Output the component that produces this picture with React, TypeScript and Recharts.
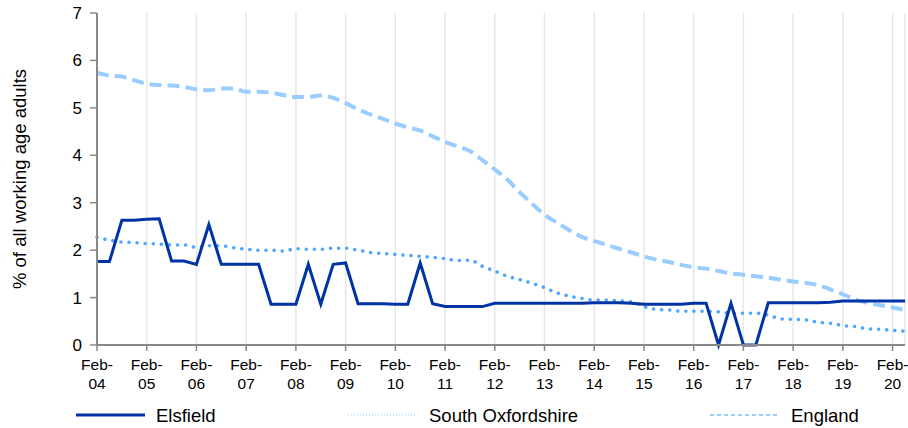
import { LineChart, Line, XAxis, YAxis, CartesianGrid, Legend } from 'recharts'

// quarterly values Feb-04 .. May-20
const elsfield = [
  1.76, 1.76, 2.63, 2.63, 2.65, 2.66, 1.77, 1.77, 1.7, 2.54, 1.7, 1.7, 1.7, 1.7, 0.86, 0.86,
  0.86, 1.7, 0.86, 1.7, 1.73, 0.87, 0.87, 0.87, 0.86, 0.86, 1.73, 0.87, 0.81, 0.81, 0.81, 0.81,
  0.88, 0.88, 0.88, 0.88, 0.88, 0.88, 0.88, 0.88, 0.89, 0.89, 0.89, 0.88, 0.86, 0.86, 0.86, 0.86,
  0.88, 0.88, 0, 0.88, 0, 0, 0.89, 0.89, 0.89, 0.89, 0.89, 0.9, 0.93, 0.93, 0.93, 0.93, 0.93, 0.93,
]
const southOxfordshire = [
  2.27, 2.21, 2.17, 2.16, 2.14, 2.13, 2.11, 2.11, 2.06, 2.09, 2.09, 2.05, 2.02, 2.0, 2.0, 1.98,
  2.03, 2.02, 2.02, 2.04, 2.04, 2.0, 1.95, 1.93, 1.91, 1.89, 1.87, 1.85, 1.82, 1.78, 1.79, 1.66,
  1.56, 1.45, 1.38, 1.3, 1.21, 1.1, 1.03, 0.98, 0.95, 0.95, 0.93, 0.91, 0.81, 0.75, 0.74, 0.71,
  0.71, 0.71, 0.7, 0.67, 0.67, 0.67, 0.63, 0.55, 0.54, 0.53, 0.48, 0.46, 0.41, 0.39, 0.34, 0.33, 0.31, 0.29,
]
const england = [
  5.74, 5.68, 5.66, 5.58, 5.51, 5.48, 5.47, 5.44, 5.39, 5.37, 5.41, 5.41, 5.34, 5.34, 5.32, 5.27,
  5.23, 5.23, 5.26, 5.21, 5.1, 4.97, 4.86, 4.77, 4.67, 4.59, 4.52, 4.4, 4.28, 4.19, 4.09, 3.9,
  3.7, 3.49, 3.22, 2.98, 2.75, 2.58, 2.42, 2.28, 2.19, 2.11, 2.03, 1.95, 1.87, 1.8, 1.75, 1.69,
  1.64, 1.61, 1.56, 1.51, 1.48, 1.45, 1.42, 1.38, 1.34, 1.31, 1.26, 1.17, 1.07, 0.96, 0.89, 0.84, 0.79, 0.74,
]
const yearLabels = ['04', '05', '06', '07', '08', '09', '10', '11', '12', '13', '14', '15', '16', '17', '18', '19', '20']
const yTicks = [0, 1, 2, 3, 4, 5, 6, 7]

const data = elsfield.map((v, i) => ({
  i,
  elsfield: v,
  southOxfordshire: southOxfordshire[i],
  england: england[i],
}))

const xTicks = yearLabels.map((_, k) => k * 4)
const font = '"Liberation Sans", Arial, sans-serif'

const XTick = ({ x, y, payload }: any) => (
  <g transform={`translate(${x},${y})`}>
    <text textAnchor="middle" fontSize={15.5} fill="#000" fontFamily={font}>
      <tspan x={0} dy={17}>Feb-</tspan>
      <tspan x={0} dy={18.5}>{yearLabels[payload.value / 4]}</tspan>
    </text>
  </g>
)

const LegendBox = () => (
  <svg width={908} height={33} style={{ display: 'block', overflow: 'visible' }}>
    <line x1={76} x2={145} y1={20} y2={20} stroke="#0033A5" strokeWidth={3} />
    <text x={156} y={26.5} fontSize={18.5} fontFamily={font}>Elsfield</text>
    <line x1={348} x2={417} y1={20} y2={20} stroke="#b8dcff" strokeWidth={1.5} strokeDasharray="1 2" />
    <text x={429} y={26.5} fontSize={18.5} fontFamily={font}>South Oxfordshire</text>
    <line x1={710} x2={779} y1={20} y2={20} stroke="#99CCFF" strokeWidth={2} strokeDasharray="4 3" />
    <text x={791} y={26.5} fontSize={18.5} fontFamily={font}>England</text>
  </svg>
)

export default function App() {
  return (
    <div style={{ position: 'absolute', left: 0, top: 0, width: 908, height: 428, background: '#fff' }}>
      <LineChart width={908} height={428} data={data} margin={{ top: 13, right: 3, bottom: 0, left: 0 }}>
        <CartesianGrid horizontal={false} stroke="#e6e6e6" strokeWidth={1.5} />
        <XAxis
          dataKey="i"
          type="number"
          domain={[0, 65]}
          ticks={xTicks}
          interval={0}
          height={50}
          tick={<XTick />}
          tickSize={6}
          tickMargin={2}
          axisLine={{ stroke: '#898989', strokeWidth: 2 }}
          tickLine={{ stroke: '#898989', strokeWidth: 1.5 }}
        />
        <YAxis
          domain={[0, 7]}
          ticks={yTicks}
          width={97}
          tickSize={7}
          tickMargin={8}
          tick={{ fill: '#000', fontSize: 17, fontFamily: font }}
          axisLine={{ stroke: '#898989', strokeWidth: 2 }}
          tickLine={{ stroke: '#898989', strokeWidth: 1.5 }}
          label={{
            value: '% of all working age adults',
            angle: -90,
            position: 'insideLeft',
            offset: 19,
            style: { textAnchor: 'middle', fontSize: 18.5, fontFamily: font, fill: '#000' },
          }}
        />
        <Legend verticalAlign="bottom" height={33} content={<LegendBox />} />
        <Line
          type="monotone"
          dataKey="england"
          stroke="#99CCFF"
          strokeWidth={4}
          strokeDasharray="12 6"
          dot={false}
          isAnimationActive={false}
        />
        <Line
          type="monotone"
          dataKey="southOxfordshire"
          stroke="#4DA6FF"
          strokeWidth={3.5}
          strokeDasharray="0.1 8"
          strokeLinecap="round"
          dot={false}
          isAnimationActive={false}
        />
        <Line
          type="linear"
          dataKey="elsfield"
          stroke="#0033A5"
          strokeWidth={3}
          dot={false}
          isAnimationActive={false}
        />
      </LineChart>
    </div>
  )
}
